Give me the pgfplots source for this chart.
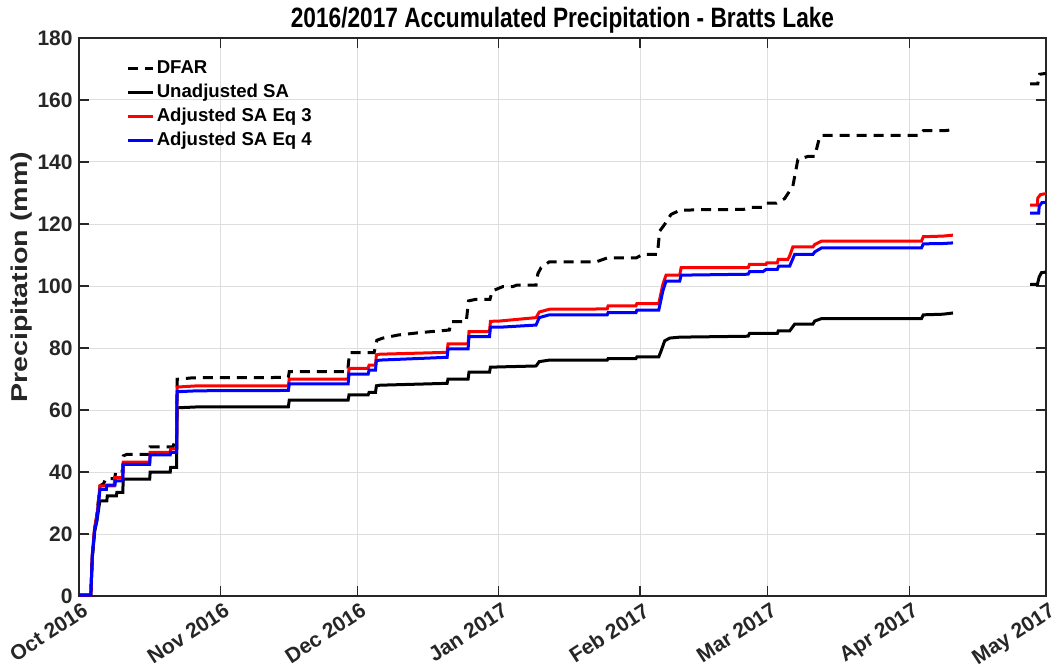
\documentclass[border=0pt]{standalone}
\usepackage{fontspec}
\setmainfont{Liberation Sans}
\usepackage{graphicx}
\usepackage{pgfplots}
\pgfplotsset{compat=1.18}
\definecolor{axgray}{RGB}{38,38,38}
\definecolor{gridgray}{RGB}{222,222,222}
\begin{document}
\begin{tikzpicture}
\begin{axis}[
 at={(0,0)}, anchor=south west,
 scale only axis, width=483.5pt, height=279pt,
 xmin=0, xmax=212, ymin=0, ymax=180,
 xtick={0,31,61,92,123,151,182,212},
 xticklabels={Oct 2016,Nov 2016,Dec 2016,Jan 2017,Feb 2017,Mar 2017,Apr 2017,May 2017},
 ytick={0,20,...,180},
 tick align=inside, xtick pos=both, ytick pos=both,
 major tick length=5pt,
 axis line style={axgray, line width=0.6pt},
 tick style={axgray, line width=0.6pt},
 grid=major, major grid style={gridgray, line width=0.5pt},
 ticklabel style={font=\fontsize{10.5}{12}\selectfont\bfseries, text=axgray},
 /pgf/number format/assume math mode=true,
 xticklabel style={rotate=33, anchor=north east, inner sep=1pt, yshift=-2pt, xshift=0.5pt},
 yticklabel style={inner sep=1pt, xshift=-2pt},
 title={\scalebox{0.81}[1]{2016/2017 Accumulated Precipitation - Bratts Lake}},
 title style={font=\fontsize{14}{16}\selectfont\bfseries, at={(0.5,1)}, anchor=base, yshift=-1pt, inner sep=0pt},
 ylabel={\scalebox{1}[0.8]{Precipitation (mm)}},
 ylabel style={font=\fontsize{14.3}{16}\selectfont\bfseries, text=axgray, at={(axis description cs:-0.059,0.571)}, anchor=center},
 unbounded coords=jump,
 legend style={at={(0.049,0.967)}, anchor=north west, draw=none, fill=none,
   font=\fontsize{9.3}{11}\selectfont\bfseries, inner sep=0pt, row sep=0pt,
   nodes={inner sep=1pt, text height=7.5pt, text depth=2.5pt}},
 legend cell align=left,
 legend image code/.code={\draw[#1] (0pt,0pt) -- (12.5pt,0pt);},
 every axis plot/.append style={line width=1.5pt},
]
\addplot[black, dash pattern=on 5pt off 3.5pt] coordinates {
(0,0.3)(2.6,0.3)(2.9,12.8)(3.45,22)(3.9,26)(4.6,35.5)(5.4,36.3)(5.9,37.9)(7.9,37.9)(8.0,40.3)(9.6,40.3)(9.7,45.2)(10.5,45.7)(15.5,45.7)(15.6,48.1)(20.6,48.1)(21.0,50)(21.4,50)(21.5,69.9)(25,70.4)(45.9,70.5)(46.1,72.4)(58.9,72.4)(59.3,78.5)(64.7,78.5)(65.3,82.5)(66.6,83.2)(70,84.2)(75,85.0)(81.2,85.8)(81.6,88.5)(84.9,88.5)(85.4,95.2)(87,95.7)(90.1,95.7)(90.6,98.4)(92.9,99.8)(95.1,99.8)(96,100.3)(100.2,100.3)(100.6,104)(101.3,105.9)(103.1,107.8)(113.4,107.8)(115.9,109.1)(122.2,109.1)(123.6,110.2)(126.8,110.2)(127.3,117.7)(128.4,119.9)(129.8,123.1)(131.7,124.4)(136,124.6)(145.7,124.7)(147,125.4)(149.9,125.4)(150.7,126.7)(152.9,126.7)(154.7,128.2)(156.5,132.2)(157.6,140.8)(159.8,141.8)(161.3,141.8)(162.4,148.3)(162.9,148.6)(184.3,148.6)(185.1,150.1)(189.7,150.1)(191.6,150.4)(200,nan)(208.5,165.2)(210.2,165.2)(210.6,168.3)(212,168.6)
};
\addlegendentry{DFAR}
\addplot[black] coordinates {
(0,0.3)(2.6,0.3)(2.9,12)(3.45,21)(3.9,24)(4.4,29)(4.6,30.7)(6.1,30.7)(6.2,32.3)(8.2,32.3)(8.3,33.4)(9.6,33.4)(9.7,37.7)(15.5,37.7)(15.6,40.0)(20.0,40.0)(20.1,41.5)(21.4,41.5)(21.5,60.7)(26,61.0)(45.9,61.0)(46.1,63.2)(59.0,63.2)(59.2,64.9)(63.4,64.9)(63.6,65.7)(65.0,65.7)(65.2,67.8)(66,68.0)(80.7,68.6)(80.9,70.0)(85.3,70.0)(85.5,72.2)(90.0,72.2)(90.2,73.8)(92.2,73.9)(100.2,74.2)(100.9,75.6)(103.1,76.1)(115.8,76.1)(116.0,76.6)(122.1,76.6)(122.3,77.1)(127.1,77.1)(127.6,79)(128.4,82.3)(129.5,83.2)(131.7,83.5)(146.7,83.8)(147,84.7)(153.1,84.7)(153.3,85.5)(155.8,85.5)(156.9,87.7)(160.9,87.7)(161.3,88.7)(162.8,89.5)(184.7,89.5)(185.1,90.7)(189.4,90.9)(191.6,91.3)(200,nan)(208.5,100.5)(210.1,100.5)(210.5,102.9)(211,104.3)(212,104.5)
};
\addlegendentry{Unadjusted SA}
\addplot[red] coordinates {
(0,0.3)(2.6,0.3)(2.9,13)(3.45,22.5)(3.9,25.5)(4.6,35.5)(7.7,35.5)(7.8,38.2)(9.6,38.2)(9.7,43.2)(15.5,43.2)(15.6,46.3)(20.0,46.3)(20.1,47.5)(21.4,47.5)(21.5,67.4)(26,67.8)(45.9,67.8)(46.1,70.0)(59.0,70.0)(59.2,73.4)(63.4,73.4)(63.6,74.5)(65.0,74.5)(65.2,77.8)(66,78.0)(80.7,78.6)(80.9,81.3)(85.3,81.3)(85.5,85.3)(90.0,85.3)(90.2,88.6)(92.2,88.7)(100.2,89.8)(100.9,91.6)(103.1,92.5)(115.8,92.6)(116.0,93.6)(122.1,93.6)(122.3,94.3)(127.1,94.3)(128,100.5)(128.7,103.5)(131.7,103.5)(132,105.9)(146.7,105.9)(147,107.0)(150.6,107.0)(150.8,107.5)(153.1,107.5)(153.3,108.6)(155.4,108.6)(155.8,109.7)(156.5,112.6)(160.9,112.6)(161.3,113.4)(162.8,114.5)(184.7,114.5)(185.1,115.9)(189.4,116.1)(191.6,116.4)(200,nan)(208.5,126.1)(210.1,126.1)(210.2,128.4)(210.8,129.5)(212,129.8)
};
\addlegendentry{Adjusted SA Eq 3}
\addplot[blue] coordinates {
(0,0.3)(2.6,0.3)(2.9,12.6)(3.45,21.6)(3.9,24.4)(4.6,34.4)(6.0,34.4)(6.1,35.8)(7.9,35.8)(8.0,37.1)(9.6,37.1)(9.7,42.5)(15.5,42.5)(15.6,45.5)(20.0,45.5)(20.1,46.3)(21.4,46.3)(21.5,65.9)(26,66.2)(45.9,66.3)(46.1,68.4)(59.0,68.4)(59.2,71.6)(63.4,71.6)(63.6,72.9)(65.0,72.9)(65.2,75.9)(66,76.1)(80.7,77.0)(80.9,79.7)(85.3,79.7)(85.5,83.7)(90.0,83.7)(90.2,86.7)(92.2,86.7)(100.2,87.4)(100.9,89.8)(103.1,90.7)(115.8,90.7)(116.0,91.4)(122.1,91.4)(122.3,92.2)(127.1,92.2)(128,98.4)(128.7,101.6)(131.7,101.6)(132,103.5)(146.7,103.8)(147,104.6)(149.9,104.6)(150.7,105.4)(153.1,105.4)(153.4,106.4)(155.8,106.4)(156.9,110.2)(160.9,110.2)(161.3,111.0)(162.8,112.3)(184.7,112.3)(185.1,113.6)(189.4,113.7)(191.6,113.9)(200,nan)(208.5,123.5)(210.4,123.5)(210.5,125.7)(211.1,126.9)(212,127.0)
};
\addlegendentry{Adjusted SA Eq 4}
\end{axis}
\pgfresetboundingbox
\path[use as bounding box] (-39.5pt,-36.5pt) rectangle (489.5pt,298pt);
\end{tikzpicture}
\end{document}
